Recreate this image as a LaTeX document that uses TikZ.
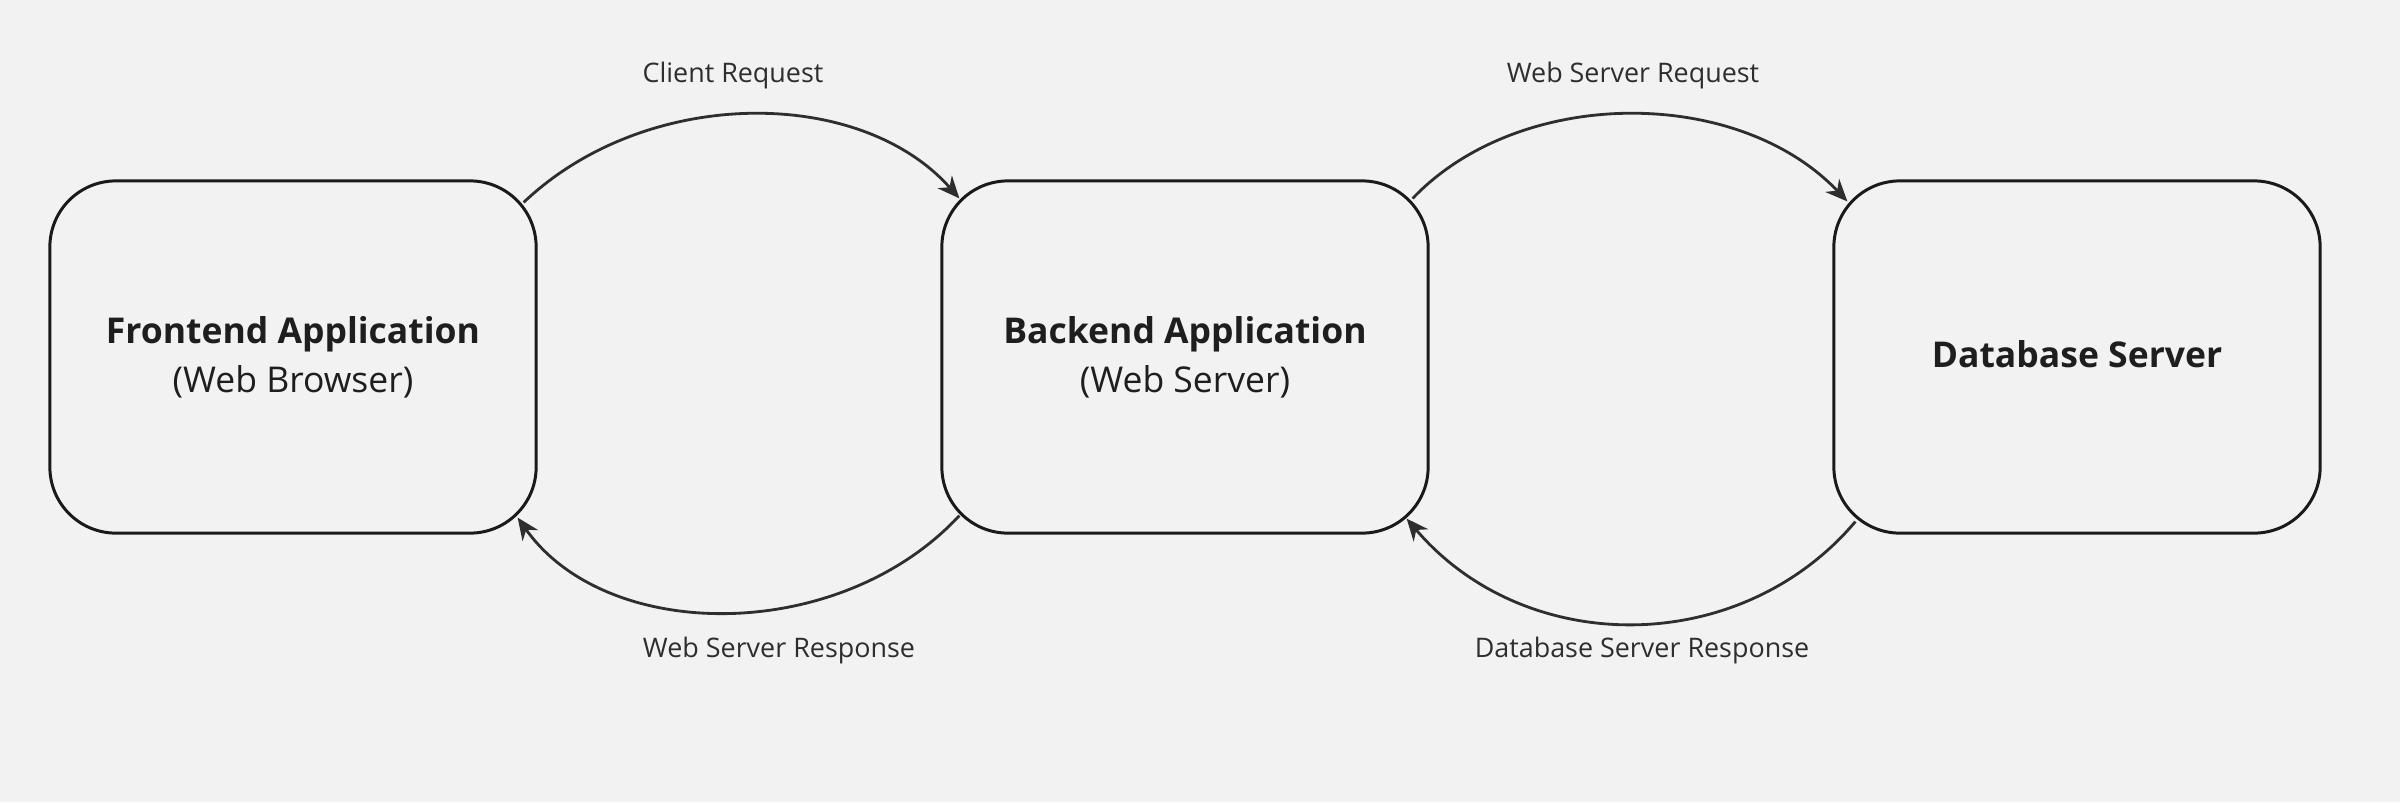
\documentclass[tikz,border=0pt]{standalone}
\usepackage{fontspec}
\setmainfont{Open Sans}
\usetikzlibrary{arrows.meta}
\definecolor{bg}{HTML}{F2F2F2}
\definecolor{boxline}{HTML}{1A1A1A}
\definecolor{arrowline}{HTML}{2E2E2E}
\definecolor{txt}{HTML}{1E1E1E}
\begin{document}
\begin{tikzpicture}[x=0.01cm,y=-0.01cm,
  boxtext/.style={align=center, text=txt, font=\fontsize{10.1}{13.9}\selectfont, inner sep=0pt},
  appbox/.style={boxtext, draw=boxline, line width=0.85pt, rounded corners=0.66cm,
    minimum width=4.86cm, minimum height=3.52cm},
  flow/.style={draw=arrowline, line width=0.8pt, -{Stealth[length=0.22cm,width=0.19cm]}},
  flowlabel/.style={text=arrowline, font=\fontsize{7.65}{9}\selectfont, inner sep=0pt}]
\fill[bg] (0,0) rectangle (2400,802);
\useasboundingbox (0,0) rectangle (2400,802);

\node[appbox] (b1) at (293,357) {\textbf{Frontend Application}\\(Web Browser)};
\node[appbox] (b2) at (1185,357) {\textbf{Backend Application}\\(Web Server)};
\node[appbox] (b3) at (2077,357) {};
\node[boxtext] (t3) at ([yshift=0.03cm]b3.center) {\textbf{Database Server}};

\coordinate (c1s) at ([shift={(-14,23)}]b1.north east);
\coordinate (c1e) at ([shift={(19,19)}]b2.north west);
\coordinate (c2s) at ([shift={(-17,19)}]b2.north east);
\coordinate (c2e) at ([shift={(15,22)}]b3.north west);
\coordinate (r1s) at ([shift={(19,-19)}]b2.south west);
\coordinate (r1e) at ([shift={(-20,-17)}]b1.south east);
\coordinate (r2s) at ([shift={(23,-13)}]b3.south west);
\coordinate (r2e) at ([shift={(-23,-16)}]b2.south east);

\draw[flow] (c1s) .. controls (646,86) and (860,86) .. (c1e);
\draw[flow] (c2s) .. controls (1520,86) and (1738,86) .. (c2e);
\draw[flow] (r1s) .. controls (840,644) and (607,644) .. (r1e);
\draw[flow] (r2s) .. controls (1740,658) and (1525,658) .. (r2e);

\node[flowlabel] (l1) at (733,75) {Client Request};
\node[flowlabel] (l2) at (1633,75) {Web Server Request};
\node[flowlabel] (l3) at (779,650) {Web Server Response};
\node[flowlabel] (l4) at (1642,650) {Database Server Response};
\end{tikzpicture}
\end{document}
